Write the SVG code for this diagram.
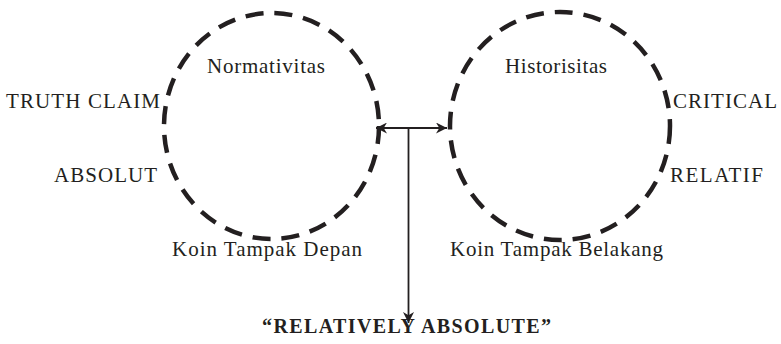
<svg xmlns="http://www.w3.org/2000/svg" width="781" height="344" viewBox="0 0 781 344">
<style>
.ring{fill:none;stroke:#231f20;stroke-width:4.5;stroke-dasharray:18 11}
.t{font-family:"Liberation Serif","Times New Roman",serif;font-size:21px;fill:#231f20}
.b{font-family:"Liberation Serif","Times New Roman",serif;font-size:20px;font-weight:bold;fill:#231f20}
.ln{fill:none;stroke:#231f20;stroke-width:1.8}
</style>
<defs>
<marker id="ah" viewBox="0 0 10 10" refX="10" refY="5" markerWidth="12" markerHeight="11" markerUnits="userSpaceOnUse" orient="auto-start-reverse">
<path d="M0,0 L10,5 L0,10 L3,5 Z" fill="#231f20"/>
</marker>
</defs>
<g id="normativitas">
<ellipse class="ring" cx="271.5" cy="126" rx="107.5" ry="113"/>
<text class="t" x="207" y="73" textLength="118">Normativitas</text>
<text class="t" x="172" y="256" textLength="190">Koin Tampak Depan</text>
</g>
<g id="historisitas">
<ellipse class="ring" cx="560" cy="126" rx="110" ry="114"/>
<text class="t" x="505" y="73" textLength="102">Historisitas</text>
<text class="t" x="450" y="256" textLength="213">Koin Tampak Belakang</text>
</g>
<g id="truth-claim"><text class="t" x="6" y="108" textLength="154">TRUTH CLAIM</text></g>
<g id="absolut"><text class="t" x="54" y="182" textLength="103">ABSOLUT</text></g>
<g id="critical"><text class="t" x="673" y="108" textLength="104">CRITICAL</text></g>
<g id="relatif"><text class="t" x="670" y="182" textLength="93">RELATIF</text></g>
<g id="relatively-absolute"><text class="b" x="262" y="333" textLength="289">“RELATIVELY ABSOLUTE”</text></g>
<g id="connectors">
<line class="ln" x1="376" y1="128" x2="447" y2="128" marker-start="url(#ah)" marker-end="url(#ah)"/>
<line class="ln" x1="408.5" y1="128" x2="408.5" y2="323" marker-end="url(#ah)"/>
</g>
</svg>
